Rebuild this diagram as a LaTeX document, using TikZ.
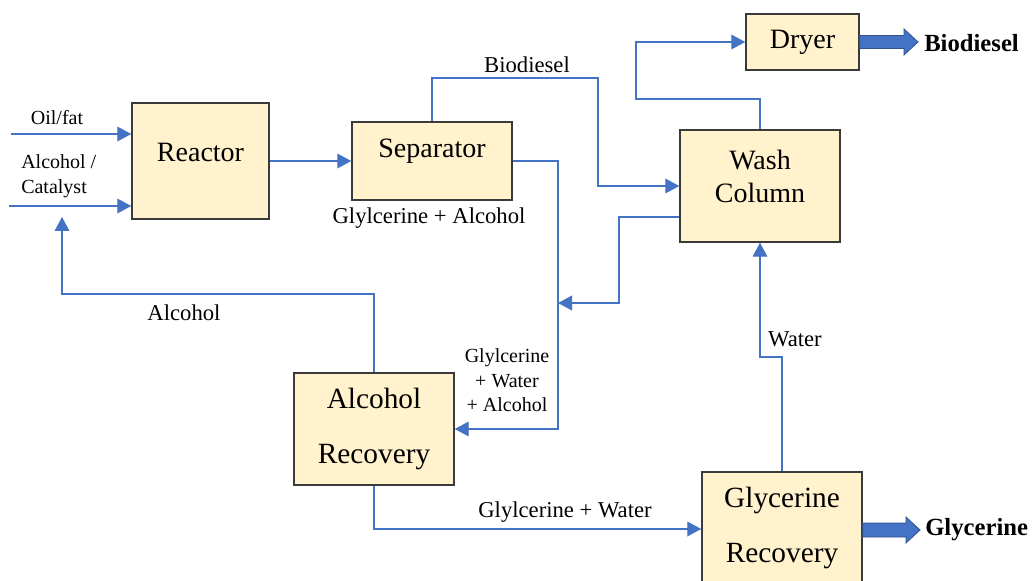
\documentclass[tikz,border=0pt]{standalone}
\usepackage{fontspec}
\setmainfont{Liberation Serif}
\usetikzlibrary{arrows.meta}
\definecolor{flowblue}{HTML}{4472C4}
\definecolor{flowdark}{HTML}{2F528F}
\definecolor{boxfill}{HTML}{FFF2CC}
\definecolor{boxline}{HTML}{3A3A3A}
\tikzset{
  x=0.75pt, y=-0.75pt,
  box/.style={draw=boxline, line width=1.1pt, fill=boxfill, rectangle, inner sep=0pt},
  boxtext/.style={font=\fontsize{21}{25}\selectfont, align=center, inner sep=0pt},
  flow/.style={draw=flowblue, line width=1pt, -{Triangle[length=10.5pt,width=11pt]}},
  lbl/.style={font=\fontsize{17}{20}\selectfont, inner sep=0pt, align=center},
  smalllbl/.style={font=\fontsize{15}{18.4}\selectfont, inner sep=0pt},
  outlbl/.style={font=\fontsize{18.5}{22}\selectfont\bfseries, inner sep=0pt, anchor=west},
  bigarrow/.style={fill=flowblue, draw=flowdark, line width=0.6pt}
}
\begin{document}
\begin{tikzpicture}
\clip (0,0) rectangle (1032,581);
\fill[white] (0,0) rectangle (1032,581);

% boxes
\node[box, minimum width=102.75pt, minimum height=87pt,
      label={[boxtext, yshift=6.75pt]center:Reactor}] (reactor) at (200.5,161) {};
\node[box, minimum width=120pt, minimum height=58.5pt,
      label={[boxtext, yshift=7pt]center:Separator}] (separator) at (432,161) {};
\node[box, minimum width=84.75pt, minimum height=42pt,
      label={[boxtext]center:Dryer}] (dryer) at (802.5,42) {};
\node[box, minimum width=120pt, minimum height=84pt,
      label={[boxtext, yshift=7pt]center:Wash\\Column}] (washcol) at (760,186) {};
\node[box, minimum width=120pt, minimum height=84pt,
      label={[boxtext, font=\fontsize{22}{41.5}\selectfont]center:Alcohol\\Recovery}] (ar) at (374,429) {};
\node[box, minimum width=120pt, minimum height=85.5pt,
      label={[boxtext, font=\fontsize{22}{41.5}\selectfont, yshift=1pt]center:Glycerine\\Recovery}] (gr) at (782,529) {};

% free ends
\coordinate (oilsrc) at (11,134);
\coordinate (alcsrc) at (9,206);
\coordinate (merge) at (558,303);
\coordinate (alcret) at (62,217);

% inputs
\draw[flow] (oilsrc) -- (oilsrc -| reactor.west);
\draw[flow] (alcsrc) -- (alcsrc -| reactor.west);
\node[smalllbl] (oiltxt) at (57,118) {Oil/fat};
\node[smalllbl, anchor=west, align=left] (alctxt) at (21,176) {Alcohol /\\Catalyst};

% reactor -> separator
\draw[flow] (reactor.east) -- (reactor.east -| separator.west);

% separator -> wash column (biodiesel)
\draw[flow] (separator.north) |- (598,78) |- (washcol.west);
\node[lbl] (biotxt) at (527,65) {Biodiesel};

% wash column -> dryer
\draw[flow] (washcol.north) |- (636,99) |- (dryer.west);

% separator -> alcohol recovery
\draw[flow] (separator.east) -| (558,429) -- (ar.east);
\node[lbl] (glyalc) at (429,218) {Glylcerine + Alcohol};
\node[smalllbl, align=center] (glywa) at (507,380.5) {Glylcerine\\+ Water\\+ Alcohol};

% wash column -> merge
\draw[flow] (washcol.west |- 0,217) -| (619,303) -- (merge);

% alcohol recycle
\draw[flow] (ar.north) |- (62,294) -- (alcret);
\node[lbl] (alctxt2) at (184,313) {Alcohol};

% alcohol recovery -> glycerine recovery
\draw[flow] (ar.south) |- (gr.west);
\node[lbl] (gwtxt) at (565,512) {Glylcerine + Water};

% water
\draw[flow] (gr.north) -- (782,357) -| (washcol.south);
\node[lbl] (watertxt) at (795,339) {Water};

% big output arrows
\draw[bigarrow] (dryer.east |- 0,35.5) -- (904,35.5) -- (904,29) -- (918,42) -- (904,55) -- (904,48.5) -- (dryer.east |- 0,48.5) -- cycle;
\node[outlbl] (biodout) at (924,43) {Biodiesel};
\draw[bigarrow] (gr.east |- 0,523) -- (906,523) -- (906,517) -- (920,530) -- (906,543) -- (906,537) -- (gr.east |- 0,537) -- cycle;
\node[outlbl] (glyout) at (925,530) {Glycerine};
\end{tikzpicture}
\end{document}
